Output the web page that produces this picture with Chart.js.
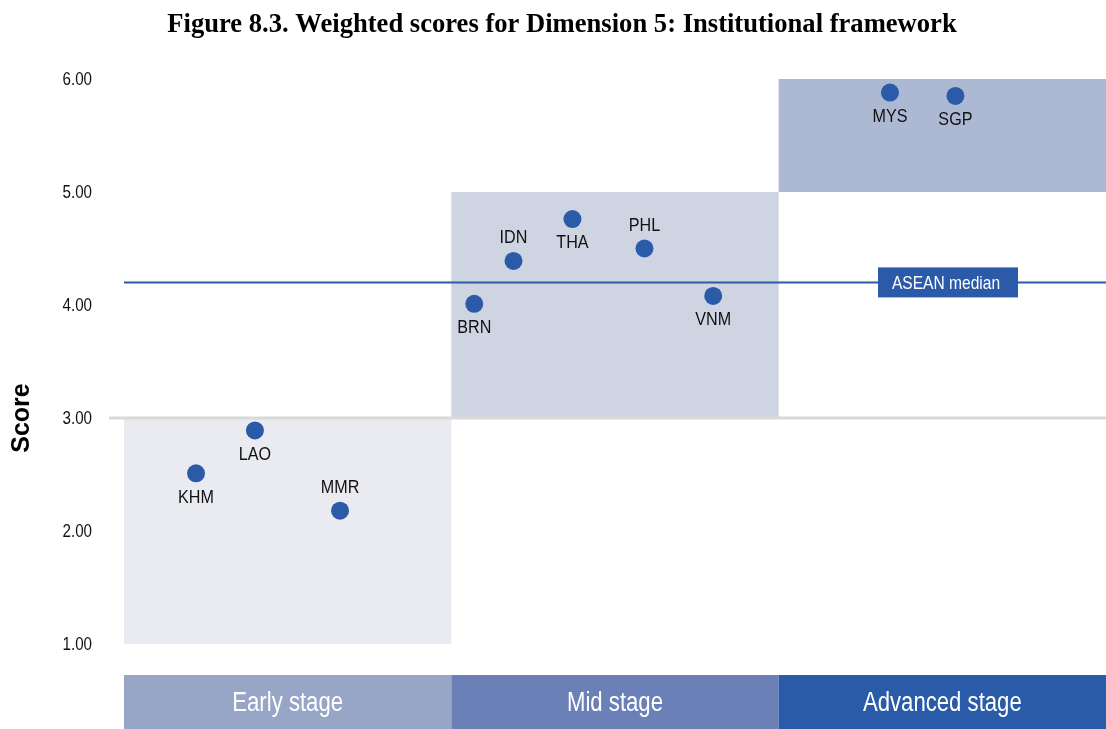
<!DOCTYPE html>
<html>
<head>
<meta charset="utf-8">
<script src="https://cdn.jsdelivr.net/npm/chart.js@4"></script>
<style>
  html, body { margin: 0; padding: 0; background: #fff; }
  #wrap { width: 1106px; height: 729px; position: relative; }
</style>
</head>
<body>
<div id="wrap"><canvas id="stageChart"></canvas></div>
<script>
// Data
const countries = ['KHM', 'LAO', 'MMR', 'BRN', 'IDN', 'THA', 'PHL', 'VNM', 'MYS', 'SGP'];
const scores = [2.51, 2.89, 2.18, 4.01, 4.39, 4.76, 4.50, 4.08, 5.88, 5.85];
const xPos = [0.22, 0.40, 0.66, 1.07, 1.19, 1.37, 1.59, 1.80, 2.34, 2.54];
const labelSide = ['below', 'below', 'above', 'below', 'above', 'below', 'above', 'below', 'below', 'below'];

const stages = ['Early stage', 'Mid stage', 'Advanced stage'];
const stageLow = [1, 3, 5];
const stageHigh = [3, 5, 6];
const aseanMedian = 4.2;

const titleText = 'Figure 8.3. Weighted scores for Dimension 5: Institutional framework';
const sans = "'Liberation Sans', Arial, sans-serif";

const bandColors = ['#eaebf1', '#ced4e2', '#adb8d3'];
const barColors = ['#97a5c7', '#6a80b6', '#2a5ba8'];
const blue = '#2a5aa8';

// no narrow font installed, so squeeze regular sans horizontally
function narrowText(ctx, text, x, y, size, color, align, squeeze) {
    ctx.save();
    ctx.translate(x, y);
    ctx.scale(squeeze || 0.82, 1);
    ctx.font = size + 'px ' + sans;
    ctx.fillStyle = color;
    ctx.textAlign = align || 'center';
    ctx.textBaseline = 'middle';
    ctx.fillText(text, 0, 0);
    ctx.restore();
}

const stagePlugin = {
    id: 'stagePlugin',
    beforeDatasetsDraw(chart) {
        const { ctx, chartArea, scales: { x, y } } = chart;
        ctx.save();
        // stage backgrounds
        stages.forEach((s, i) => {
            const left = x.getPixelForValue(i), right = x.getPixelForValue(i + 1);
            const top = y.getPixelForValue(stageHigh[i]), bottom = y.getPixelForValue(stageLow[i]);
            ctx.fillStyle = bandColors[i];
            ctx.fillRect(left, top, right - left, bottom - top);
        });
        // gray line at 3.00
        ctx.strokeStyle = '#d9d9d9';
        ctx.lineWidth = 3;
        const y3 = y.getPixelForValue(3);
        ctx.beginPath();
        ctx.moveTo(109, y3);
        ctx.lineTo(chartArea.right, y3);
        ctx.stroke();
        // ASEAN median
        const ym = y.getPixelForValue(aseanMedian);
        ctx.strokeStyle = blue;
        ctx.lineWidth = 2;
        ctx.beginPath();
        ctx.moveTo(chartArea.left, ym);
        ctx.lineTo(chartArea.right, ym);
        ctx.stroke();
        ctx.fillStyle = blue;
        ctx.fillRect(878, ym - 15, 140, 30);
        ctx.restore();
        narrowText(ctx, 'ASEAN median', 946, ym + 1, 19, '#ffffff');

        // y tick labels
        y.ticks.forEach(t => {
            narrowText(ctx, t.value.toFixed(2), 92, y.getPixelForValue(t.value) + 1, 18.5, '#111', 'right');
        });
    },
    afterDraw(chart) {
        const { ctx, scales: { x } } = chart;
        const meta = chart.getDatasetMeta(0);
        // point labels
        meta.data.forEach((pt, i) => {
            const dy = labelSide[i] === 'above' ? -23 : 24;
            narrowText(ctx, countries[i], pt.x, pt.y + dy, 19, '#111', 'center', 0.85);
        });
        // stage bars under the plot
        stages.forEach((s, i) => {
            const left = x.getPixelForValue(i), right = x.getPixelForValue(i + 1);
            ctx.fillStyle = barColors[i];
            ctx.fillRect(left, 675, right - left, 54);
            narrowText(ctx, s, (left + right) / 2, 704, 27, '#ffffff');
        });
        ctx.save();
        // title
        ctx.fillStyle = '#000';
        ctx.textAlign = 'center';
        ctx.textBaseline = 'alphabetic';
        ctx.font = "bold 26.6px 'Liberation Serif', 'Times New Roman', serif";
        ctx.fillText(titleText, 562, 32);
        // y axis title
        ctx.translate(22, 418);
        ctx.rotate(-Math.PI / 2);
        ctx.textBaseline = 'middle';
        ctx.font = "bold 25px " + sans;
        ctx.fillText('Score', 0, 0);
        ctx.restore();
    }
};

new Chart(document.getElementById('stageChart'), {
    type: 'scatter',
    data: {
        datasets: [{
            data: countries.map((c, i) => ({ x: xPos[i], y: scores[i] })),
            backgroundColor: blue,
            borderWidth: 0,
            pointRadius: 9,
            pointHoverRadius: 9
        }]
    },
    options: {
        responsive: true,
        maintainAspectRatio: false,
        animation: false,
        layout: { autoPadding: false, padding: { top: 79, bottom: 85, left: 0, right: 0 } },
        plugins: { legend: { display: false }, tooltip: { enabled: false } },
        scales: {
            x: { type: 'linear', min: 0, max: 3, display: false },
            y: {
                min: 1, max: 6,
                grid: { display: false, drawTicks: false },
                border: { display: false },
                afterFit(axis) { axis.width = 124; },
                ticks: { stepSize: 1, display: false }
            }
        }
    },
    plugins: [stagePlugin]
});
</script>
</body>
</html>
